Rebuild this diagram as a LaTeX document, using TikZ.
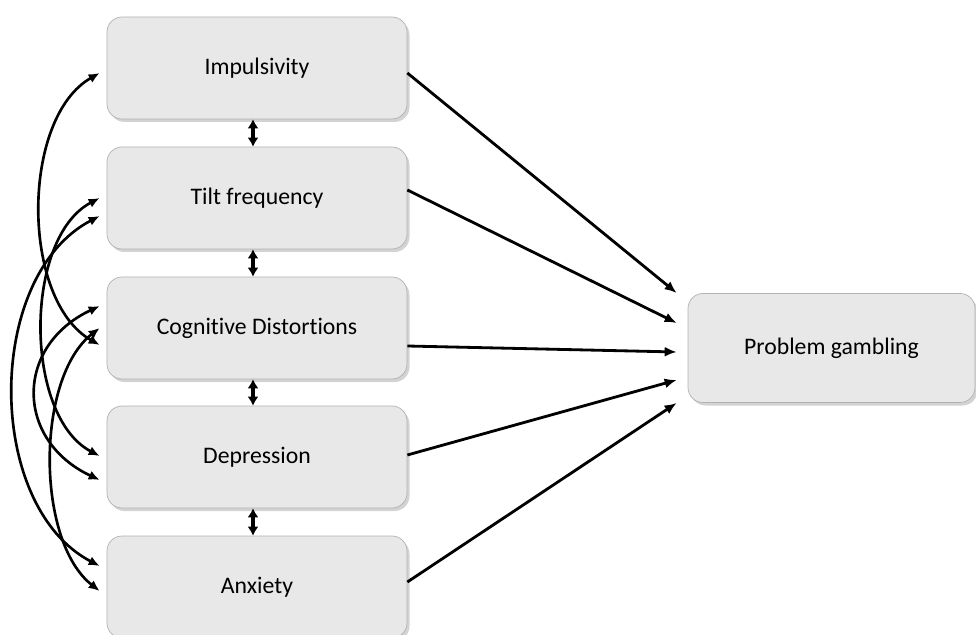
\documentclass[tikz,border=0pt]{standalone}
\usepackage{fontspec}
\setmainfont[Ligatures=NoCommon]{Carlito}
\usetikzlibrary{arrows.meta,shadows}
\tikzset{
  varbox/.style={draw=gray!60, fill=gray!18, rounded corners=3mm,
    minimum width=60mm, minimum height=20.4mm,
    drop shadow={shadow xshift=0.5mm, shadow yshift=-0.6mm, opacity=0.35},
    font=\fontsize{13.5}{16}\selectfont},
  effect/.style={-{Latex[length=2.4mm,width=2mm]}, line width=1.6pt},
  corr/.style={{Latex[length=2.2mm,width=1.9mm]}-{Latex[length=2.2mm,width=1.9mm]}, line width=1.5pt},
  adj/.style={{Latex[length=1.8mm,width=2.2mm]}-{Latex[length=1.8mm,width=2.2mm]}, line width=1.8pt}
}
\begin{document}
\begin{tikzpicture}[x=0.2mm, y=-0.2mm]
    \useasboundingbox (0,0) rectangle (976,635);
    \node[varbox] (imp) at (257,68) {Impulsivity};
    \node[varbox] (tilt) at (257,198) {Tilt frequency};
    \node[varbox] (cog) at (257,328) {Cognitive Distortions};
    \node[varbox] (dep) at (257,457) {Depression};
    \node[varbox] (anx) at (257,587) {Anxiety};
    \node[varbox, minimum width=57.4mm, minimum height=21.8mm] (pg) at (831.5,348) {Problem gambling};
    % neighbours
    \draw[adj] ([xshift=-0.8mm]imp.south) -- ([xshift=-0.8mm]tilt.north);
    \draw[adj] ([xshift=-0.8mm]tilt.south) -- ([xshift=-0.8mm]cog.north);
    \draw[adj] ([xshift=-0.8mm]cog.south) -- ([xshift=-0.8mm]dep.north);
    \draw[adj] ([xshift=-0.8mm]dep.south) -- ([xshift=-0.8mm]anx.north);
    % curved correlations
    \draw[corr] ([xshift=-1.4mm,yshift=-1mm]imp.west) .. controls +(-79,45) and +(-79,-45) .. ([xshift=-1.4mm,yshift=-3.4mm]cog.west);
    \draw[corr] ([xshift=-1.4mm,yshift=-3.6mm]tilt.west) .. controls +(-115,60) and +(-115,-60) .. ([xshift=-1.4mm,yshift=4.2mm]anx.west);
    \draw[corr] ([xshift=-1.4mm]tilt.west) .. controls +(-76,40) and +(-76,-40) .. ([xshift=-1.4mm,yshift=0.2mm]dep.west);
    \draw[corr] ([xshift=-1.4mm,yshift=4.4mm]cog.west) .. controls +(-85,40) and +(-85,-40) .. ([xshift=-1.4mm,yshift=-4.6mm]dep.west);
    \draw[corr] ([xshift=-1.4mm]cog.west) .. controls +(-64,50) and +(-64,-50) .. ([xshift=-1.4mm,yshift=-0.8mm]anx.west);
    % paths to outcome
    \draw[effect] ([yshift=-1mm]imp.east) -- ([xshift=-2.2mm,yshift=11mm]pg.west);
    \draw[effect] ([yshift=1.6mm]tilt.east) -- ([xshift=-2.2mm,yshift=5mm]pg.west);
    \draw[effect] ([yshift=-3.6mm]cog.east) -- ([xshift=-2.2mm,yshift=-0.8mm]pg.west);
    \draw[effect] ([yshift=0.4mm]dep.east) -- ([xshift=-2.2mm,yshift=-6.4mm]pg.west);
    \draw[effect] ([yshift=1mm]anx.east) -- ([xshift=-2.2mm,yshift=-11mm]pg.west);
\end{tikzpicture}
\end{document}
